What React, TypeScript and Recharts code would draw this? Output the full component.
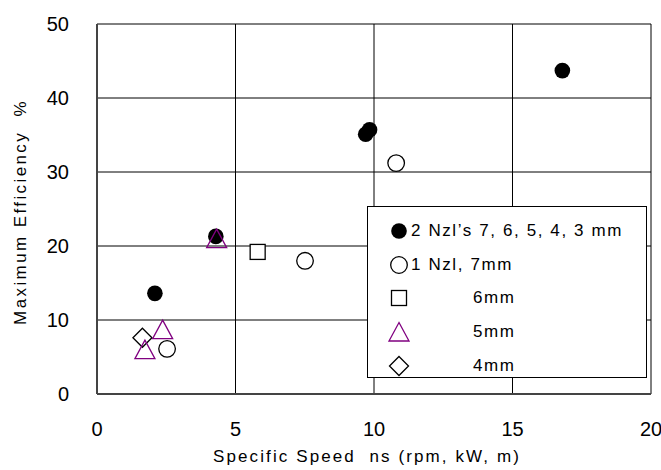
import React from 'react';
import { CartesianGrid, Scatter, ScatterChart, XAxis, YAxis } from 'recharts';

const xTicks = [0, 5, 10, 15, 20];
const yTicks = [0, 10, 20, 30, 40, 50];

// 2 nozzles, 7/6/5/4/3 mm
const twoNozzleX = [2.09, 4.29, 9.7, 9.84, 16.8];
const twoNozzleY = [13.6, 21.3, 35.1, 35.7, 43.7];
// 1 nozzle, 7 mm
const oneNzl7X = [2.53, 7.51, 10.8];
const oneNzl7Y = [6.1, 18.0, 31.2];
// 1 nozzle, 6 mm
const oneNzl6X = [5.8];
const oneNzl6Y = [19.2];
// 1 nozzle, 5 mm
const oneNzl5X = [4.32, 2.37, 1.73];
const oneNzl5Y = [21.0, 8.7, 6.0];
// 1 nozzle, 4 mm
const oneNzl4X = [1.64];
const oneNzl4Y = [7.6];

const zip = (xs: number[], ys: number[]) => xs.map((x, i) => ({ x, y: ys[i] }));

const FONT = '"Liberation Sans", Arial, sans-serif';
const PURPLE = '#800080';

const FilledDot = ({ cx, cy }: any) => <circle cx={cx} cy={cy} r={7.8} fill="#000" />;
const OpenDot = ({ cx, cy }: any) => (
  <circle cx={cx} cy={cy} r={8.3} fill="#fff" stroke="#000" strokeWidth={1.3} />
);
const Square = ({ cx, cy }: any) => (
  <rect x={cx - 7.5} y={cy - 7.5} width={15} height={15} fill="#fff" stroke="#000" strokeWidth={1.3} />
);
const Triangle = ({ cx, cy }: any) => (
  <path
    d={`M${cx},${cy - 9.5} L${cx + 10},${cy + 9} L${cx - 10},${cy + 9} Z`}
    fill="none"
    stroke={PURPLE}
    strokeWidth={1.3}
  />
);
const Diamond = ({ cx, cy }: any) => (
  <path
    d={`M${cx},${cy - 9.5} L${cx + 9.5},${cy} L${cx},${cy + 9.5} L${cx - 9.5},${cy} Z`}
    fill="none"
    stroke="#000"
    strokeWidth={1.3}
  />
);

const legendRows = [
  { label: '2 Nzl\u2019s 7, 6, 5, 4, 3 mm', shape: FilledDot, indent: false },
  { label: '1 Nzl, 7mm', shape: OpenDot, indent: false },
  { label: '6mm', shape: Square, indent: true },
  { label: '5mm', shape: Triangle, indent: true },
  { label: '4mm', shape: Diamond, indent: true },
];

function ChartLegend() {
  return (
    <div
      style={{
        position: 'absolute',
        left: 367,
        top: 206,
        width: 280,
        height: 172,
        boxSizing: 'border-box',
        border: '1px solid #000',
        background: '#fff',
        fontFamily: FONT,
        fontSize: 17,
        paddingTop: 7,
      }}
    >
      {legendRows.map((row) => {
        const Shape = row.shape;
        return (
          <div key={row.label} style={{ display: 'flex', alignItems: 'center', height: 33.8 }}>
            <svg width={24} height={24} style={{ marginLeft: 19 }}>
              <Shape cx={12} cy={12} />
            </svg>
            <span
              style={{
                marginLeft: row.indent ? 62 : 0,
                letterSpacing: 1.6,
                whiteSpace: 'nowrap',
              }}
            >
              {row.label}
            </span>
          </div>
        );
      })}
    </div>
  );
}

const YLabel = () => (
  <text
    x={20}
    y={212}
    transform="rotate(-90, 20, 212)"
    textAnchor="middle"
    dominantBaseline="central"
    fill="#000"
    fontSize={17}
    fontFamily={FONT}
    letterSpacing={2.4}
  >
    {'Maximum Efficiency\u00a0\u00a0%'}
  </text>
);

const XLabel = () => (
  <text
    x={367}
    y={456}
    textAnchor="middle"
    dominantBaseline="central"
    fill="#000"
    fontSize={17}
    fontFamily={FONT}
    letterSpacing={2.1}
  >
    {'Specific Speed\u00a0\u00a0ns (rpm, kW, m)'}
  </text>
);

export default function App() {
  return (
    <div style={{ position: 'absolute', left: 0, top: 0, width: 661, height: 470, background: '#fff' }}>
      <ScatterChart
        width={661}
        height={470}
        margin={{ top: 24, right: 10, bottom: 0, left: 0 }}
      >
        <CartesianGrid stroke="#000" strokeWidth={1} />
        <XAxis
          type="number"
          dataKey="x"
          domain={[0, 20]}
          ticks={xTicks}
          height={76}
          tickLine={false}
          tickSize={0}
          tickMargin={28}
          axisLine={{ stroke: '#444', strokeWidth: 2 }}
          tick={{ fill: '#000', fontSize: 20, fontFamily: FONT }}
          label={<XLabel />}
        />
        <YAxis
          type="number"
          dataKey="y"
          domain={[0, 50]}
          ticks={yTicks}
          width={97}
          tickLine={false}
          tickSize={0}
          tickMargin={28}
          axisLine={{ stroke: '#444', strokeWidth: 2 }}
          tick={{ fill: '#000', fontSize: 20, fontFamily: FONT }}
          label={<YLabel />}
        />
        <Scatter name="2 Nzl's" data={zip(twoNozzleX, twoNozzleY)} shape={FilledDot} isAnimationActive={false} />
        <Scatter name="1 Nzl 7mm" data={zip(oneNzl7X, oneNzl7Y)} shape={OpenDot} isAnimationActive={false} />
        <Scatter name="6mm" data={zip(oneNzl6X, oneNzl6Y)} shape={Square} isAnimationActive={false} />
        <Scatter name="4mm" data={zip(oneNzl4X, oneNzl4Y)} shape={Diamond} isAnimationActive={false} />
        <Scatter name="5mm" data={zip(oneNzl5X, oneNzl5Y)} shape={Triangle} isAnimationActive={false} />
      </ScatterChart>
      <ChartLegend />
    </div>
  );
}
